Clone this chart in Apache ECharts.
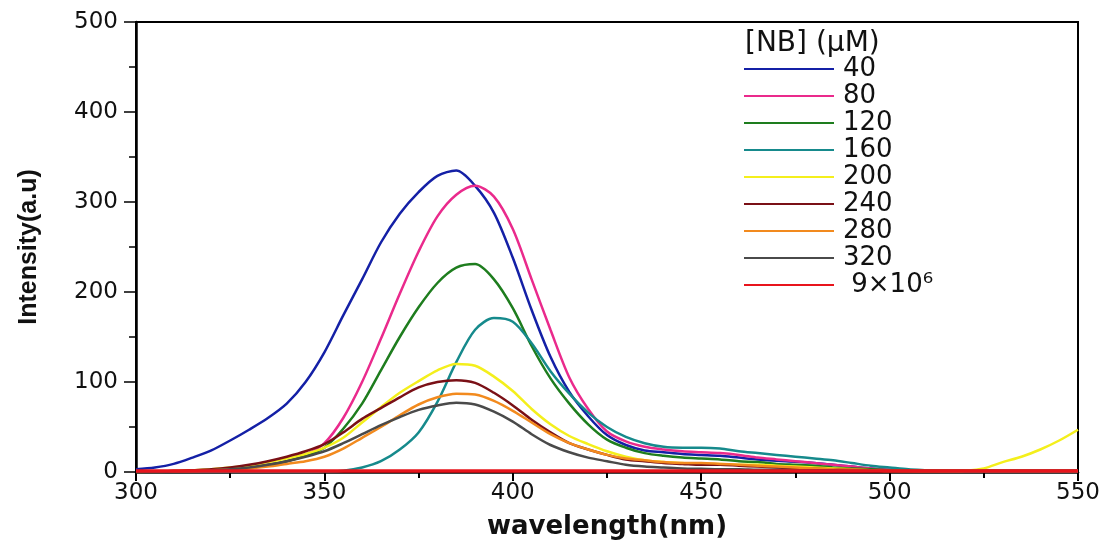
<!DOCTYPE html>
<html>
<head>
<meta charset="utf-8">
<script src="https://cdn.jsdelivr.net/npm/echarts@6/dist/echarts.min.js"></script>
<style>
html,body{margin:0;padding:0;background:#fff;}
#chart{width:1107px;height:540px;}
</style>
</head>
<body>
<div id="chart"></div>
<script>
// wavelength (nm)
const wavelengths = [300,305,310,315,320,325,330,335,340,345,350,355,360,365,370,375,380,385,390,395,400,405,410,415,420,425,430,435,440,445,450,455,460,465,470,475,480,485,490,495,500,505,510,515,520,525,530,535,540,545,550];

const seriesNames = ['40','80','120','160','200','240','280','320',' 9×10⁶'];

const nb40  = [3,5,9,16,24,35,47,60,76,100,133,174,214,255,287,311,329,335,318,288,238,180,128,89,62,41,30,24,22,20,19,18,16,14,12.5,11.5,10,8,6,4,2.5,2,1.5,1,1,1,1,1,1,1,1];
const nb80  = [0.5,0.5,1,1,2,3,5,8,12,19,32,60,100,148,198,245,284,308,318,306,270,214,158,105,70,45,34,28,25,23,22,21,19,16,14,12,10,8,6,4,2.5,1.5,1,1,1,1,1,1,1,1,1];
const nb120 = [0.5,0.5,1,1,2,3,5,8,12,18,27,48,76,113,150,183,210,227,231,214,182,140,104,76,53,36,27,21,18,16,15,14,12,11,9,8,7,5,4,3,2,1.5,1,1,1,1,1,1,1,1,1];
const nb160 = [0,0,0,0,0,0,0,0,0,0,0.5,1.5,5,12,25,44,78,122,158,171,167,143,112,87,66,50,39,32,28,27,27,26,23,21,19,17,15,13,10,7,5,3,2,1,0.5,0.5,0.5,0.5,0.5,0.5,0.5];
const nb200 = [0,0.5,1,2,3,5,7,11,15,20,27,38,55,72,88,101,113,120,118,106,90,70,53,40,31,23,17,13,11,10,9,9,8,8,7,6,5,4,3,2,1,1,1,1,1.5,4,11,17,25,35,47];
const nb240 = [0,0.5,1,2,3,5,8,12,17,23,31,44,59,71,83,94,100,102,99,88,74,58,44,32,25,19,14,12,10,9,8,8,7,6,5,4,3.5,3,2.5,2,1.5,1.5,1.5,1.5,1.5,1.5,1.5,1.5,1.5,1.5,1.5];
const nb280 = [0,0,0.5,1,2,3,4,6,9,12,17,26,38,50,63,75,83,87,86,79,68,55,42,32,25,19,15,13,11,10,10,9,8,7,6,5,4,3,2.5,2,1.5,1,1,1,1,1,1,1,1,1,1];
const nb320 = [0,0,0.5,1,2,3,5,8,12,17,23,32,42,52,61,69,74,77,75,67,56,42,30,22,16,12,8,6,5,4,3.5,3,3,2.5,2.5,2,2,2,1.5,1.5,1,1,1,1,1,1,1,1,1,1,1];
const nbRef = [1,1,1,1,1,1,1,1,1,1,1,1,1,1,1,1,1,1,1,1,1,1,1,1,1,1,1,1,1,1,1,1,1,1,1,1,1,1,1,1,1,1,1,1,1,1,1,1,1,1,1];

const allValues = [nb40,nb80,nb120,nb160,nb200,nb240,nb280,nb320,nbRef];
const colors = ['#1420a6','#ea2a8c','#1e7d1e','#168a8c','#f4ef1c','#7a1016','#f28a1e','#4a4a4a','#e8141c'];
const widths = [2.5,2.5,2.5,2.5,2.5,2.5,2.5,2.5,3.5];

const chart = echarts.init(document.getElementById('chart'));

const series = allValues.map((vals, i) => ({
  name: seriesNames[i],
  type: 'line',
  data: wavelengths.map((w, k) => [w, vals[k]]),
  symbol: 'none',
  smooth: 0.3,
  lineStyle: { color: colors[i], width: widths[i] },
  itemStyle: { color: colors[i] },
  z: i === 8 ? 5 : 2
}));

chart.setOption({
  animation: false,
  backgroundColor: '#fff',
  title: {
    text: '[NB] (μM)',
    left: 745,
    top: 30,
    padding: 0,
    textStyle: { fontFamily: 'DejaVu Sans', fontSize: 28, fontWeight: 'normal', color: '#111' }
  },
  legend: {
    orient: 'vertical',
    left: 743,
    top: 56,
    padding: 0,
    itemWidth: 90,
    itemHeight: 14,
    itemGap: 1,
    data: seriesNames,
    itemStyle: { opacity: 0 },
    textStyle: { fontFamily: 'DejaVu Sans', fontSize: 26, lineHeight: 24, color: '#111', padding: [0,0,0,4] }
  },
  grid: {
    left: 136, right: 29, top: 22, bottom: 68,
    show: true, borderColor: '#000', borderWidth: 2,
    containLabel: false,
    outerBoundsMode: 'none'
  },
  xAxis: {
    type: 'value',
    min: 300, max: 550, interval: 50,
    name: 'wavelength(nm)',
    nameLocation: 'middle',
    nameGap: 42,
    nameTextStyle: { fontFamily: 'DejaVu Sans', fontSize: 26, fontWeight: 'bold', color: '#111' },
    axisLine: { show: true, lineStyle: { color: '#000', width: 2.5 } },
    axisTick: { show: true, inside: false, length: 9, lineStyle: { color: '#000', width: 2 } },
    minorTick: { show: true, splitNumber: 2, length: 6, lineStyle: { color: '#000', width: 2 } },
    splitLine: { show: false },
    axisLabel: { fontFamily: 'DejaVu Sans', fontSize: 23, color: '#111', margin: 10 }
  },
  yAxis: {
    type: 'value',
    min: 0, max: 500, interval: 100,
    name: 'Intensity(a.u)',
    nameLocation: 'middle',
    nameRotate: 90,
    nameGap: 94,
    nameTextStyle: { fontFamily: "'Liberation Sans', Arial, sans-serif", fontSize: 25, fontWeight: 'bold', color: '#111' },
    axisLine: { show: true, lineStyle: { color: '#000', width: 2.5 } },
    axisTick: { show: true, inside: false, length: 12, lineStyle: { color: '#000', width: 1.5 } },
    minorTick: { show: true, splitNumber: 2, length: 7, lineStyle: { color: '#000', width: 1.5 } },
    splitLine: { show: false },
    axisLabel: { fontFamily: 'DejaVu Sans', fontSize: 23, color: '#111', margin: 18 }
  },
  series: series
});
</script>
</body>
</html>
